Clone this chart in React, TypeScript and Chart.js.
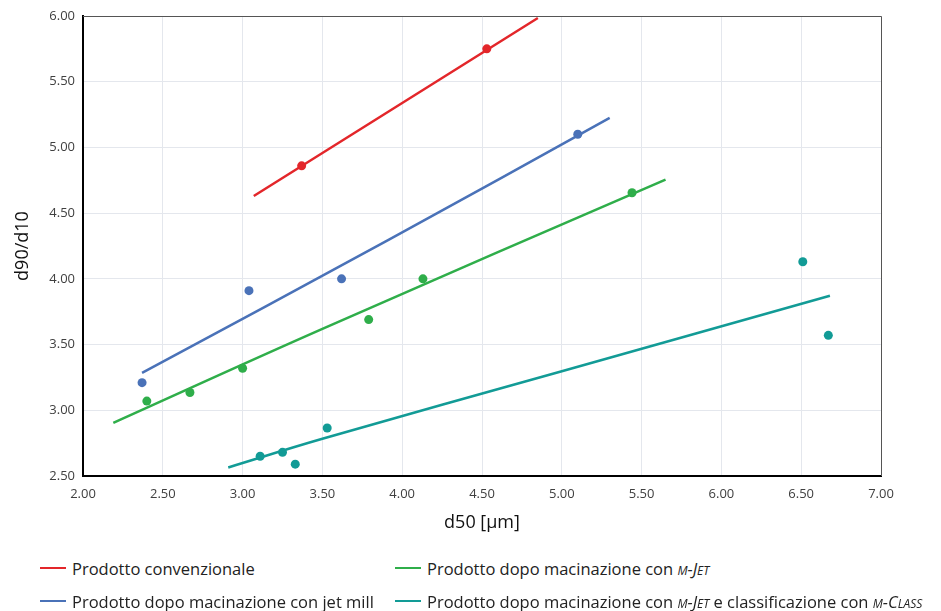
import React, { useEffect, useRef } from "react";
import { Chart, registerables } from "chart.js";

Chart.register(...registerables);

// Measured points (d50, d90/d10)
const redX = [3.37, 4.53];
const redY = [4.86, 5.75];
const blueX = [2.37, 3.04, 3.62, 5.1];
const blueY = [3.21, 3.91, 4.0, 5.1];
const greenX = [2.4, 2.67, 3.0, 3.79, 4.13, 5.44];
const greenY = [3.07, 3.135, 3.32, 3.69, 4.0, 4.655];
const tealX = [3.11, 3.25, 3.33, 3.53, 6.51, 6.67];
const tealY = [2.65, 2.68, 2.59, 2.865, 4.13, 3.57];

// Trend lines
const redTrendX = [3.07, 4.85];
const redTrendY = [4.63, 5.985];
const blueTrendX = [2.37, 3.92, 5.3];
const blueTrendY = [3.285, 4.3, 5.225];
const greenTrendX = [2.19, 3.5, 5.65];
const greenTrendY = [2.905, 3.62, 4.755];
const tealTrendX = [2.91, 3.5, 5.0, 6.68];
const tealTrendY = [2.565, 2.783, 3.297, 3.872];

const xTicks = [2, 2.5, 3, 3.5, 4, 4.5, 5, 5.5, 6, 6.5, 7];

const RED = "#e3262a";
const BLUE = "#4a72b8";
const GREEN = "#2fae4a";
const TEAL = "#129b96";

const zip = (xs: number[], ys: number[]) => xs.map((x, i) => ({ x, y: ys[i] }));

const FONT = "'Open Sans', 'Noto Sans', sans-serif";

export default function App() {
  const ref = useRef<HTMLCanvasElement | null>(null);
  useEffect(() => {
    if (!ref.current) return;
    const frame = {
      id: "frame",
      afterDraw(chart: any) {
        const { ctx, chartArea } = chart;
        ctx.save();
        ctx.strokeStyle = "#555555";
        ctx.lineWidth = 1;
        ctx.beginPath();
        ctx.moveTo(chartArea.left, chartArea.top + 0.5);
        ctx.lineTo(chartArea.right + 0.5, chartArea.top + 0.5);
        ctx.lineTo(chartArea.right + 0.5, chartArea.bottom);
        ctx.stroke();
        ctx.restore();
      },
    };
    const lineDs = (xs: number[], ys: number[], c: string) => ({
      data: zip(xs, ys),
      showLine: true,
      borderColor: c,
      backgroundColor: c,
      borderWidth: 2.5,
      pointRadius: 0,
      tension: 0.4,
    });
    const ptDs = (xs: number[], ys: number[], c: string) => ({
      data: zip(xs, ys),
      showLine: false,
      borderColor: c,
      backgroundColor: c,
      pointRadius: 4.5,
      pointBorderWidth: 0,
    });
    const chart = new Chart(ref.current, {
      type: "scatter",
      data: {
        datasets: [
          lineDs(redTrendX, redTrendY, RED),
          lineDs(blueTrendX, blueTrendY, BLUE),
          lineDs(greenTrendX, greenTrendY, GREEN),
          lineDs(tealTrendX, tealTrendY, TEAL),
          ptDs(redX, redY, RED),
          ptDs(blueX, blueY, BLUE),
          ptDs(greenX, greenY, GREEN),
          ptDs(tealX, tealY, TEAL),
        ] as any,
      },
      options: {
        animation: false,
        responsive: false,
        layout: { padding: { left: 0, right: 60, top: 16, bottom: 0 } },
        plugins: { legend: { display: false }, tooltip: { enabled: false } },
        scales: {
          x: {
            type: "linear",
            min: 2,
            max: 7,
            afterBuildTicks: (s: any) => {
              s.ticks = xTicks.map((v) => ({ value: v }));
            },
            afterFit: (s: any) => {
              s.height = 64;
            },
            ticks: {
              color: "#404040",
              font: { family: FONT, size: 13 },
              padding: 10,
              callback: (v: any) => Number(v).toFixed(2),
            },
            grid: { color: "#e4e7ed", lineWidth: 1, drawTicks: false },
            border: { color: "#000000", width: 2 },
            title: {
              display: true,
              text: "d50 [µm]",
              color: "#111111",
              font: { family: FONT, size: 18 },
              padding: { top: 4, bottom: 6 },
            },
          },
          y: {
            type: "linear",
            min: 2.5,
            max: 6,
            ticks: {
              stepSize: 0.5,
              color: "#404040",
              font: { family: FONT, size: 13 },
              padding: 8,
              callback: (v: any) => Number(v).toFixed(2),
            },
            afterFit: (s: any) => {
              s.width = 83;
            },
            grid: { color: "#e4e7ed", lineWidth: 1, drawTicks: false },
            border: { color: "#000000", width: 2 },
            title: {
              display: true,
              text: "d90/d10",
              color: "#111111",
              font: { family: FONT, size: 18 },
              padding: 12,
            },
          },
        },
      },
      plugins: [frame],
    } as any);
    return () => chart.destroy();
  }, []);

  const sc: React.CSSProperties = { fontVariant: "small-caps", fontStyle: "italic" };
  const item = (color: string, left: number, top: number, content: React.ReactNode) => (
    <div
      style={{
        position: "absolute",
        left,
        top,
        display: "flex",
        alignItems: "center",
        height: 20,
        whiteSpace: "nowrap",
      }}
    >
      <span style={{ display: "inline-block", width: 26, height: 2.5, background: color, marginRight: 6 }} />
      <span>{content}</span>
    </div>
  );

  return (
    <div
      style={{
        position: "fixed",
        left: 0,
        top: 0,
        width: 941,
        height: 611,
        background: "#ffffff",
        fontFamily: FONT,
        fontSize: 16.5,
        color: "#222222",
      }}
    >
      <canvas ref={ref} width={941} height={540} style={{ position: "absolute", left: 0, top: 0 }} />
      {item(RED, 40, 558, "Prodotto convenzionale")}
      {item(BLUE, 40, 591, "Prodotto dopo macinazione con jet mill")}
      {item(GREEN, 395, 558, <>Prodotto dopo macinazione con <span style={sc}>m-Jet</span></>)}
      {item(
        TEAL,
        395,
        591,
        <>
          Prodotto dopo macinazione con <span style={sc}>m-Jet</span> e classificazione con{" "}
          <span style={sc}>m-Class</span>
        </>
      )}
    </div>
  );
}
